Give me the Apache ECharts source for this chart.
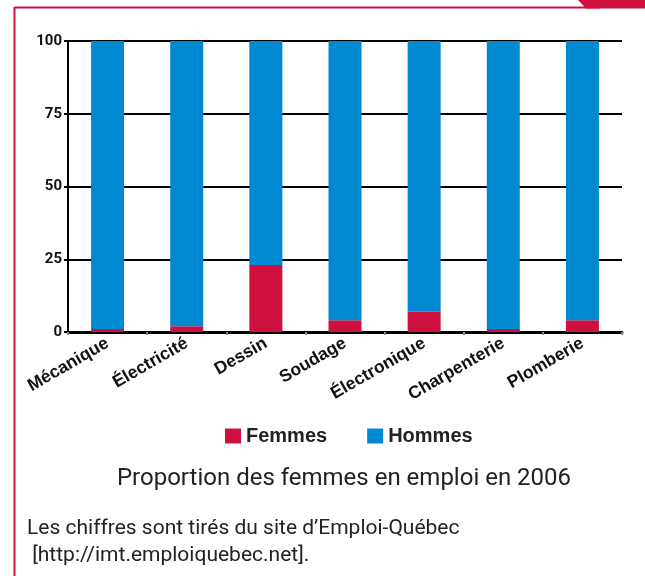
<!DOCTYPE html>
<html>
<head>
<meta charset="utf-8">
<script src="https://cdn.jsdelivr.net/npm/echarts@6/dist/echarts.min.js"></script>
<style>
  html, body { margin: 0; padding: 0; background: #fff; }
  #main { width: 645px; height: 576px; }
</style>
</head>
<body>
<div id="main"></div>
<script>
// metiers et proportions (en %)
const categories = ['Mécanique', 'Électricité', 'Dessin', 'Soudage', 'Électronique', 'Charpenterie', 'Plomberie'];
const femmes = [1, 2, 23, 4, 7, 1, 4];
const hommes = [99, 98, 77, 96, 93, 99, 96];
const yTicks = [0, 25, 50, 75, 100];

const RED = '#cf1140';
const BLUE = '#0088d0';
const narrow = "Roboto, 'Liberation Sans', sans-serif";
const bold = "'Liberation Sans', Arial, sans-serif";

const chart = echarts.init(document.getElementById('main'));

chart.setOption({
  animation: false,
  backgroundColor: '#fff',
  grid: { left: 68, right: 23, top: 41, bottom: 244 },
  title: [
    {
      text: 'Proportion des femmes en emploi en 2006',
      left: 339,
      textAlign: 'center',
      top: 462,
      textStyle: { fontFamily: narrow, fontWeight: 'normal', fontSize: 24, color: '#222' }
    },
    {
      text: 'Les chiffres sont tirés du site d’Emploi-Québec\n [http://imt.emploiquebec.net].',
      left: 27,
      top: 515,
      padding: 0,
      textStyle: { fontFamily: narrow, fontWeight: 'normal', fontSize: 21, lineHeight: 27, color: '#222' }
    }
  ],
  legend: {
    left: 225,
    top: 426,
    icon: 'rect',
    itemWidth: 16,
    itemHeight: 15,
    itemGap: 40,
    padding: 0,
    textStyle: { fontFamily: bold, fontWeight: 'bold', fontSize: 20, color: '#222' },
    data: ['Femmes', 'Hommes']
  },
  xAxis: {
    type: 'category',
    data: categories,
    axisLine: { lineStyle: { color: '#000', width: 3 } },
    axisTick: { show: true, length: 3, lineStyle: { color: '#888', width: 2 } },
    axisLabel: {
      rotate: 30,
      margin: 10,
      interval: 0,
      fontFamily: bold,
      fontWeight: 'bold',
      fontSize: 17.5,
      color: '#111'
    }
  },
  yAxis: {
    type: 'value',
    min: yTicks[0],
    max: yTicks[yTicks.length - 1],
    interval: 25,
    axisLine: { show: true, lineStyle: { color: '#000', width: 2 } },
    axisTick: { show: true, length: 4, lineStyle: { color: '#000', width: 2 } },
    splitLine: { show: true, lineStyle: { color: '#000', width: 2 } },
    axisLabel: {
      margin: 6,
      fontFamily: narrow,
      fontWeight: 'bold',
      fontSize: 15,
      color: '#111'
    }
  },
  series: [
    {
      name: 'Femmes',
      type: 'bar',
      stack: 'total',
      barWidth: 33,
      itemStyle: { color: RED },
      data: femmes
    },
    {
      name: 'Hommes',
      type: 'bar',
      stack: 'total',
      barWidth: 33,
      itemStyle: { color: BLUE },
      data: hommes
    }
  ],
  graphic: [
    // cadre rouge
    { type: 'line', shape: { x1: 14.5, y1: 7.5, x2: 600, y2: 7.5 }, style: { stroke: RED, lineWidth: 2 }, z: 100 },
    { type: 'line', shape: { x1: 14.5, y1: 7, x2: 14.5, y2: 576 }, style: { stroke: RED, lineWidth: 2 }, z: 100 },
    { type: 'polygon', shape: { points: [[578, 0], [645, 0], [645, 8.5], [586, 8.5]] }, style: { fill: RED }, z: 100 }
  ]
});
</script>
</body>
</html>
